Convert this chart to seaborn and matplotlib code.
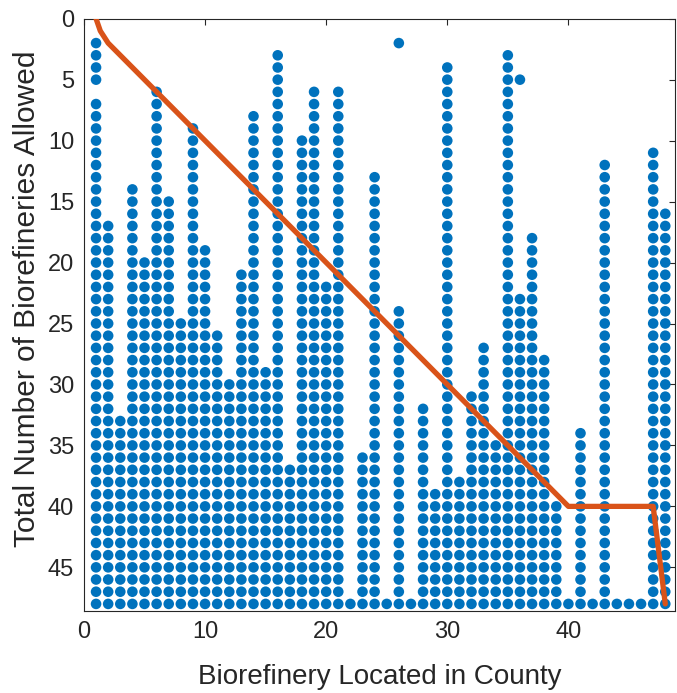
import numpy as np
import pandas as pd
import matplotlib
matplotlib.use("Agg")
import matplotlib.pyplot as plt
import seaborn as sns

# ---- data ----
counties = list(range(1, 49))
# first (top-most) value of the contiguous run of dots reaching the bottom (48) for each county
run_start = [7, 17, 33, 14, 20, 6, 15, 25, 9, 19, 26, 30, 21, 8, 29, 3,
             37, 10, 6, 22, 6, 48, 36, 13, 48, 24, 48, 32, 39, 4, 38, 31,
             27, 35, 3, 23, 18, 28, 40, 48, 34, 48, 12, 48, 48, 48, 11, 16]
run_end = 48
# isolated dots above the runs
extra_county = [1, 1, 1, 1, 26, 36]
extra_total = [2, 3, 4, 5, 2, 5]

line_x = [1, 1.35, 2, 40, 47, 48]
line_y = [0, 1, 2, 40, 40, 48]

x_ticks = [0, 10, 20, 30, 40]
y_ticks = [0, 5, 10, 15, 20, 25, 30, 35, 40, 45]

# ---- build table ----
px, py = [], []
for c, s in zip(counties, run_start):
    for v in range(s, run_end + 1):
        px.append(c)
        py.append(v)
px += extra_county
py += extra_total
dots = pd.DataFrame({"county": px, "total": py})
line_df = pd.DataFrame({"x": line_x, "y": line_y})

sns.set_theme(style="white")
plt.rcParams["font.family"] = ["Liberation Sans", "DejaVu Sans"]

fig = plt.figure(figsize=(6.77, 6.93), dpi=100)
ax = fig.add_axes([0.124, 0.118, 0.873, 0.855])

sns.scatterplot(data=dots, x="county", y="total", ax=ax, color="#0072BD",
                s=58, edgecolor="none", linewidth=0, zorder=2)
sns.lineplot(data=line_df, x="x", y="y", ax=ax, color="#D95319", lw=3.8,
             sort=False, estimator=None, zorder=3)

ax.set_xlim(0, 48.8)
ax.set_ylim(48.6, 0)
ax.set_xticks(x_ticks)
ax.set_yticks(y_ticks)
ax.tick_params(direction="in", length=4, width=0.8, top=True, right=True,
               labelsize=17, colors="#262626", pad=7)
for sp in ax.spines.values():
    sp.set_visible(True)
    sp.set_color("#262626")
    sp.set_linewidth(0.8)
ax.set_xlabel("Biorefinery Located in County", fontsize=20, color="#262626", labelpad=15)
ax.set_ylabel("Total Number of Biorefineries Allowed", fontsize=21.5, color="#262626")
ax.yaxis.set_label_coords(-0.072, 0.528)

fig.savefig("out.png", dpi=100)
